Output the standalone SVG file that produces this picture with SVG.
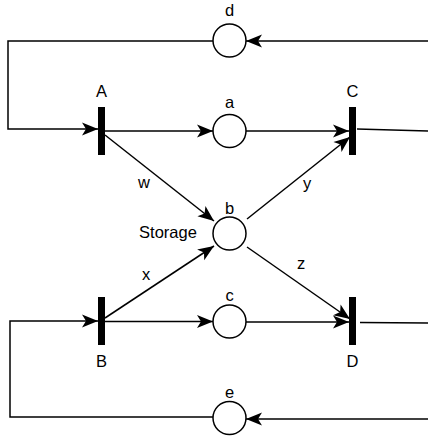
<svg xmlns="http://www.w3.org/2000/svg" width="428" height="436" viewBox="0 0 428 436">
  <style>
    .arc { fill: none; stroke: #000; stroke-width: 1.5; }
    .head { marker-end: url(#arrow); }
    .place { fill: #fff; stroke: #000; stroke-width: 1.5; }
    .trans { fill: #000; stroke: none; }
    .lbl { font-family: "Liberation Sans", Arial, sans-serif; font-size: 16.5px; fill: #000; text-anchor: middle; }
  </style>
  <defs>
    <marker id="arrow" markerUnits="userSpaceOnUse" markerWidth="18" markerHeight="16" viewBox="-17 -8 18 16" refX="0" refY="0" orient="auto" overflow="visible">
      <path d="M0,0 L-16,-6.5 L-12,0 L-16,6.5 Z" fill="#000"/>
    </marker>
  </defs>
  <rect width="428" height="436" fill="#fff"/>

  <g id="connectors">
    <!-- upper feedback loop: C → d → A -->
    <polyline class="arc head" points="428,41 246,41"/>
    <polyline class="arc head" points="213,41 8,41 8,129 98,129"/>
    <polyline class="arc" points="357,129 428,131"/>
    <!-- top row -->
    <polyline class="arc head" points="105,131 213,131"/>
    <polyline class="arc head" points="246,131 349,131"/>
    <!-- storage arcs -->
    <polyline class="arc head" points="105,135 214,221"/>
    <polyline class="arc head" points="105,318 214,246"/>
    <polyline class="arc head" points="247,219 350,137"/>
    <polyline class="arc head" points="247,247 350,319"/>
    <!-- bottom row -->
    <polyline class="arc head" points="105,321.5 213,321.5"/>
    <polyline class="arc head" points="246,322 349,322"/>
    <polyline class="arc" points="360,322.5 428,323"/>
    <!-- lower feedback loop: D → e → B -->
    <polyline class="arc head" points="428,419 246,419"/>
    <polyline class="arc head" points="213,417 10,417 10,321 98,321"/>
  </g>

  <g id="place-d">
    <circle class="place" cx="229.5" cy="40.5" r="16.5"/>
    <text class="lbl" x="229.5" y="16">d</text>
  </g>
  <g id="place-a">
    <circle class="place" cx="229.5" cy="131" r="16.5"/>
    <text class="lbl" x="229.5" y="108">a</text>
  </g>
  <g id="place-b">
    <circle class="place" cx="229.5" cy="233.5" r="16.5"/>
    <text class="lbl" x="229.5" y="214">b</text>
    <text class="lbl" x="168" y="238">Storage</text>
  </g>
  <g id="place-c">
    <circle class="place" cx="229.5" cy="321.5" r="16.5"/>
    <text class="lbl" x="229.5" y="301">c</text>
  </g>
  <g id="place-e">
    <circle class="place" cx="229.5" cy="418" r="16.5"/>
    <text class="lbl" x="229.5" y="398">e</text>
  </g>

  <g id="trans-A">
    <rect class="trans" x="98" y="107" width="7" height="48"/>
    <text class="lbl" x="101.5" y="97">A</text>
  </g>
  <g id="trans-C">
    <rect class="trans" x="349" y="107" width="7" height="48"/>
    <text class="lbl" x="352.5" y="97">C</text>
  </g>
  <g id="trans-B">
    <rect class="trans" x="98" y="297" width="7" height="48"/>
    <text class="lbl" x="101.5" y="367">B</text>
  </g>
  <g id="trans-D">
    <rect class="trans" x="349" y="297" width="7" height="48"/>
    <text class="lbl" x="352.5" y="367">D</text>
  </g>

  <g id="arc-labels">
    <text class="lbl" x="144" y="188">w</text>
    <text class="lbl" x="307" y="189">y</text>
    <text class="lbl" x="146" y="280">x</text>
    <text class="lbl" x="301" y="269">z</text>
  </g>
</svg>
